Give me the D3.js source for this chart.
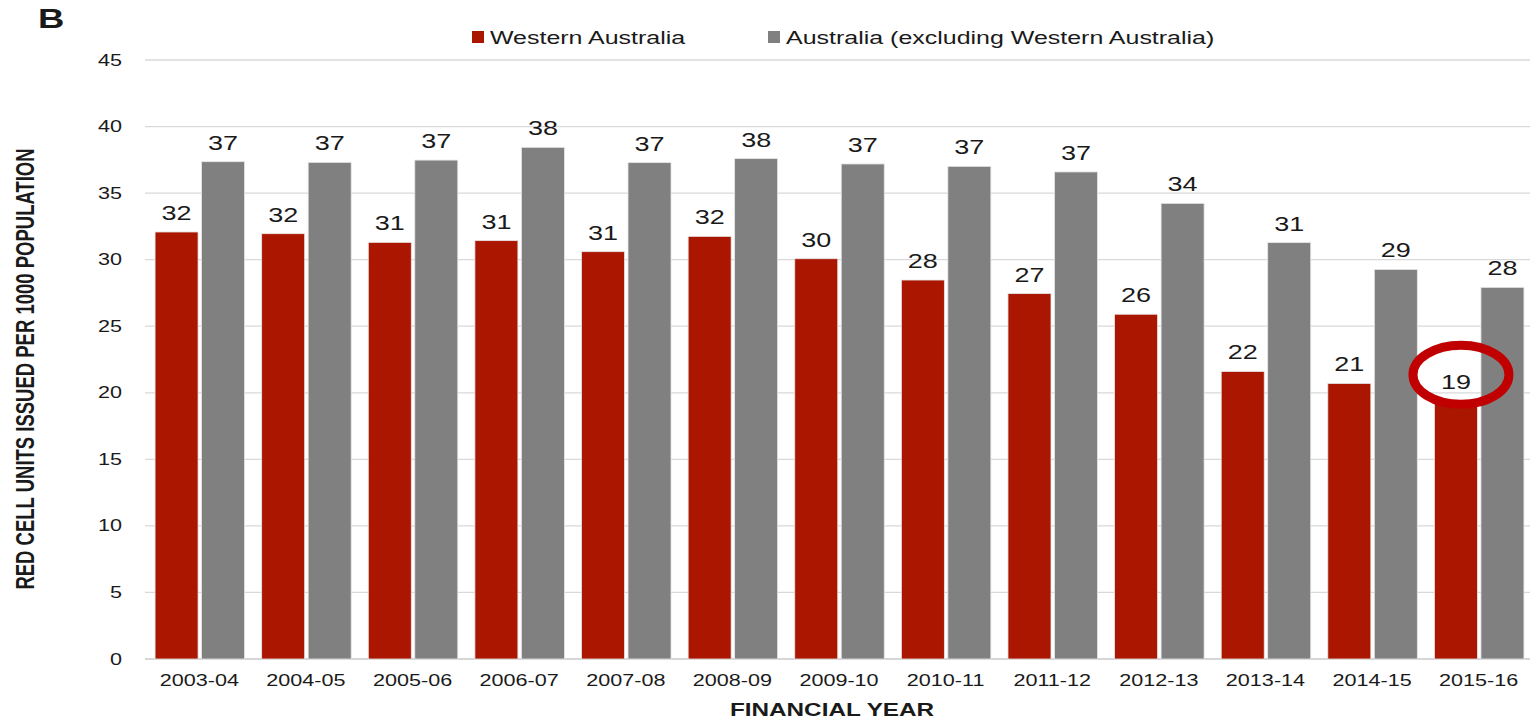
<!DOCTYPE html>
<html>
<head>
<meta charset="utf-8">
<script src="https://cdn.jsdelivr.net/npm/d3@7"></script>
<style>
  html, body { margin: 0; padding: 0; background: #fff; }
  svg { display: block; }
  text { font-family: "Liberation Sans", Arial, sans-serif; fill: #1a1a1a; }
</style>
</head>
<body>
<svg id="chart" width="1530" height="720"></svg>
<script>
// Red cell units issued per 1000 population, by financial year
const years = ["2003-04", "2004-05", "2005-06", "2006-07", "2007-08", "2008-09", "2009-10",
               "2010-11", "2011-12", "2012-13", "2013-14", "2014-15", "2015-16"];
const seriesNames = ["Western Australia", "Australia (excluding Western Australia)"];
const westernAustralia = [32.08, 31.95, 31.3, 31.43, 30.6, 31.75, 30.07, 28.47, 27.45, 25.9, 21.6, 20.7, 19.4];
const restOfAustralia = [37.36, 37.31, 37.48, 38.44, 37.29, 37.59, 37.19, 37.01, 36.59, 34.23, 31.28, 29.27, 27.92];
const yTicks = [0, 5, 10, 15, 20, 25, 30, 35, 40, 45];
const colors = ["#aa1600", "#808080"];

// the figure is drawn wide; text is widened to the same proportion
const SX = 1.35;

const svg = d3.select("#chart");

const x = d3.scaleBand().domain(years).range([146.5, 1532.5]).padding(0);
const xInner = d3.scaleBand().domain(seriesNames).range([0, x.bandwidth()])
  .paddingInner(0.075).paddingOuter(0.184);
const y = d3.scaleLinear().domain([0, 45]).range([659, 60]);

// gridlines
svg.append("g").selectAll("line").data(yTicks).join("line")
  .attr("x1", 145).attr("x2", 1530)
  .attr("y1", d => y(d)).attr("y2", d => y(d))
  .attr("stroke", d => d === 0 ? "#c8c8c8" : "#d9d9d9")
  .attr("stroke-width", 1.3);

// y tick labels
svg.append("g").selectAll("text").data(yTicks).join("text")
  .attr("transform", d => `translate(122,${y(d) + 5.5}) scale(${SX},1)`)
  .attr("text-anchor", "end")
  .style("font-size", "16px")
  .text(d => d);

// bars
const rows = years.map((yr, i) => ({ year: yr, values: [westernAustralia[i], restOfAustralia[i]] }));
const groups = svg.append("g").selectAll("g").data(rows).join("g")
  .attr("transform", d => `translate(${x(d.year)},0)`);

groups.selectAll("rect").data(d => d.values.map((v, k) => ({ key: seriesNames[k], v, k })))
  .join("rect")
  .attr("x", d => xInner(d.key))
  .attr("width", xInner.bandwidth())
  .attr("y", d => y(d.v))
  .attr("height", d => y(0) - y(d.v))
  .attr("fill", d => colors[d.k])
  .attr("stroke", "#e6e6e6")
  .attr("stroke-width", 0.8);

// value labels
groups.selectAll("text").data(d => d.values.map((v, k) => ({ key: seriesNames[k], v, k })))
  .join("text")
  .attr("transform", d => `translate(${xInner(d.key) + xInner.bandwidth() / 2},${y(d.v) - 12}) scale(${SX},1)`)
  .attr("text-anchor", "middle")
  .style("font-size", "20px")
  .text(d => Math.round(d.v));

// x tick labels
svg.append("g").selectAll("text").data(years).join("text")
  .attr("transform", d => `translate(${x(d) + x.bandwidth() / 2 - 0.5},686) scale(${SX},1)`)
  .attr("text-anchor", "middle")
  .style("font-size", "16px")
  .text(d => d);

// axis titles
svg.append("text")
  .attr("transform", `translate(832,716) scale(${SX},1)`)
  .attr("text-anchor", "middle")
  .style("font-size", "18px").style("font-weight", "bold")
  .text("FINANCIAL YEAR");

svg.append("text")
  .attr("transform", `translate(34,369) scale(${SX},1) rotate(-90)`)
  .attr("text-anchor", "middle")
  .style("font-size", "18.5px").style("font-weight", "bold")
  .text("RED CELL UNITS ISSUED PER 1000 POPULATION");

// panel letter
svg.append("text")
  .attr("transform", `translate(38,28) scale(${SX},1)`)
  .style("font-size", "27px").style("font-weight", "bold")
  .text("B");

// legend
const legendX = [472, 768];
const legend = svg.append("g").selectAll("g").data(seriesNames).join("g")
  .attr("transform", (d, i) => `translate(${legendX[i]},0)`);
legend.append("rect")
  .attr("x", 0).attr("y", 31).attr("width", 12).attr("height", 12)
  .attr("fill", (d, i) => colors[i]);
legend.append("text")
  .attr("transform", `translate(18,44) scale(${SX},1)`)
  .style("font-size", "18.5px")
  .text(d => d);

// highlight ring around the latest Western Australia value
const last = years.length - 1;
const ringCx = x(years[last]) + xInner(seriesNames[0]) + xInner.bandwidth() / 2 + 5;
const ringCy = y(westernAustralia[last]) - 26;
svg.append("ellipse")
  .attr("cx", ringCx).attr("cy", ringCy)
  .attr("rx", 48).attr("ry", 29.5)
  .attr("fill", "none")
  .attr("stroke", "#c00000")
  .attr("stroke-width", 9);
</script>
</body>
</html>
